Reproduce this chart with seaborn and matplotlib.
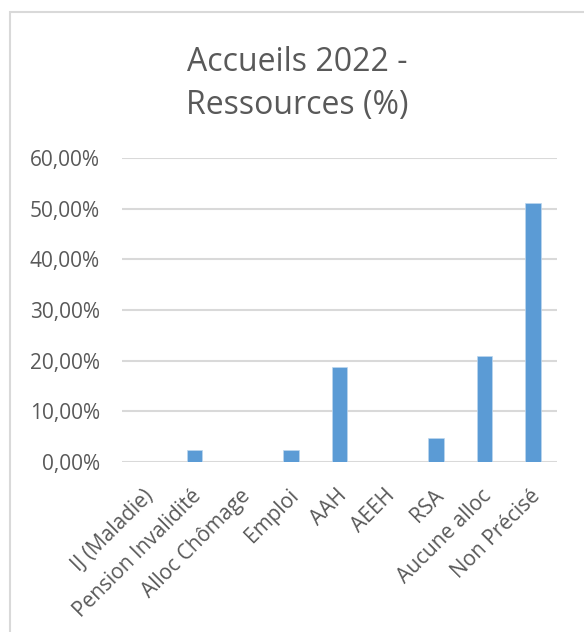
import matplotlib
matplotlib.use("Agg")
import matplotlib.pyplot as plt
import matplotlib.patches as mpatches
import matplotlib.transforms as mtransforms
from matplotlib.ticker import FuncFormatter
import pandas as pd
import seaborn as sns

categories = ["IJ (Maladie)", "Pension Invalidité", "Alloc Chômage", "Emploi",
              "AAH", "AEEH", "RSA", "Aucune alloc", "Non Précisé"]
values = [0.0, 2.3, 0.0, 2.3, 18.7, 0.0, 4.8, 21.0, 51.1]
title = "Accueils 2022 -\nRessources (%)"

df = pd.DataFrame({"cat": categories, "val": values})

sns.set_style("white")
plt.rcParams["font.family"] = ["Open Sans", "DejaVu Sans"]
text_col = "#595959"
grid_col = "#d9d9d9"

fig = plt.figure(figsize=(5.84, 6.32), dpi=100)
ax = fig.add_axes([122 / 584, 1 - 462 / 632, 435 / 584, 304 / 632])

sns.barplot(data=df, x="cat", y="val", color="#5b9bd5", width=0.32,
            saturation=1, edgecolor="#bdd7ee", linewidth=0.5, ax=ax, zorder=3)

ax.set_ylim(0, 60)
ax.set_xlim(-0.5, len(categories) - 0.5)
ax.set_yticks(range(0, 61, 10))
ax.yaxis.set_major_formatter(FuncFormatter(lambda v, p: f"{v:.2f}%".replace(".", ",")))
ax.grid(axis="y", color=grid_col, linewidth=1.5, zorder=0)
for s in ax.spines.values():
    s.set_visible(False)
ax.tick_params(axis="both", length=0, colors=text_col, labelsize=15)
ax.tick_params(axis="y", pad=16)
ax.tick_params(axis="x", pad=12)
ax.set_xlabel("")
ax.set_ylabel("")
# shift the rotated labels a bit down/right like the Excel original
shift = mtransforms.ScaledTranslation(4 / 100, -14 / 100, fig.dpi_scale_trans)
for lbl in ax.get_xticklabels():
    lbl.set_rotation(45)
    lbl.set_ha("right")
    lbl.set_va("center")
    lbl.set_rotation_mode("anchor")
    lbl.set_transform(lbl.get_transform() + shift)

fig.text(297 / 584, 1 - 84 / 632, title, ha="center", va="center",
         fontsize=23, color=text_col, linespacing=1.42)

border = mpatches.Rectangle((10 / 584, -0.05), 1.0, 1 - 12 / 632 + 0.05,
                            transform=fig.transFigure, fill=False,
                            edgecolor=grid_col, linewidth=1.5)
fig.patches.append(border)

fig.savefig("out.png", dpi=100)
